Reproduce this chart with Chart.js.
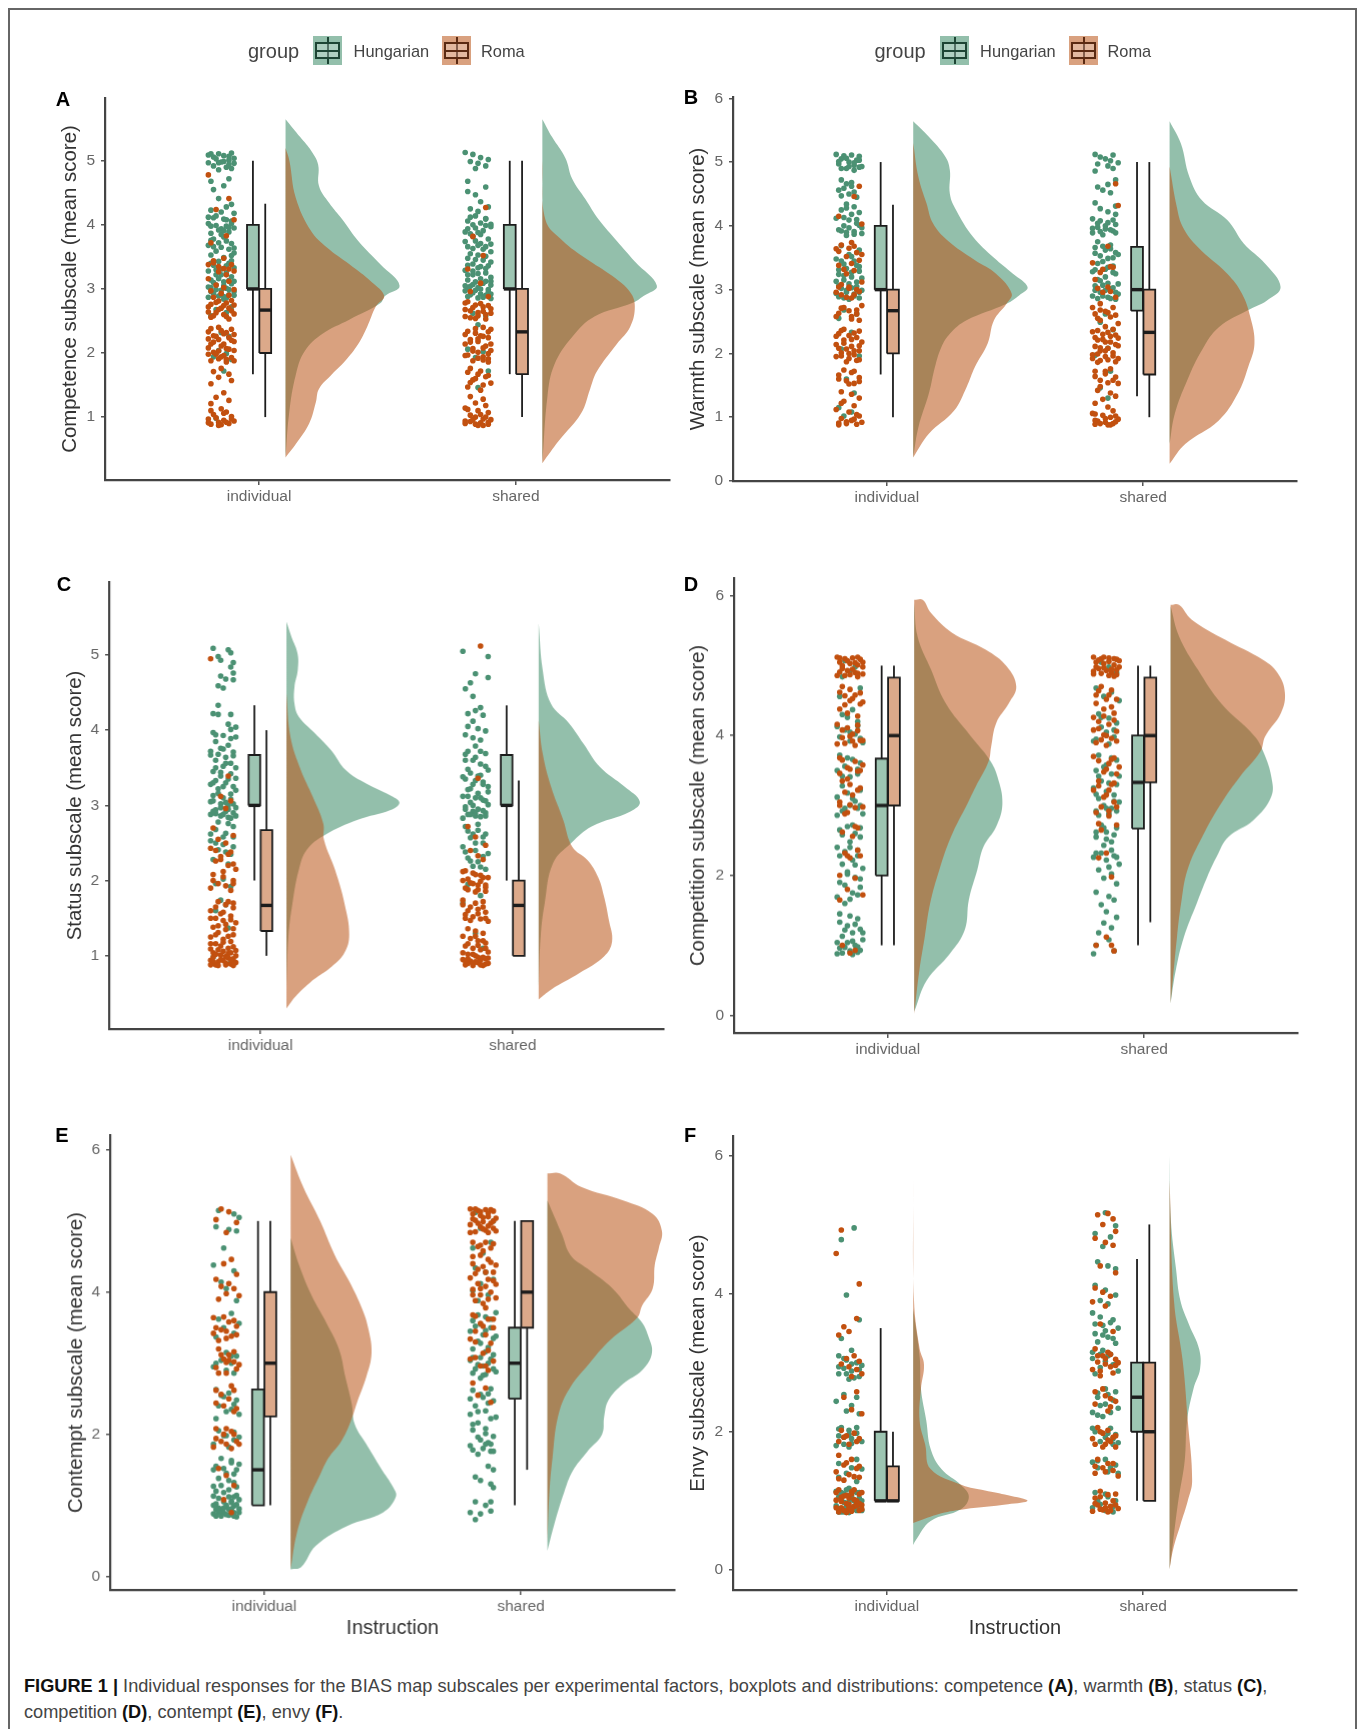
<!DOCTYPE html>
<html>
<head>
<meta charset="utf-8">
<title>BIAS map subscales</title>
<script src="https://cdn.jsdelivr.net/npm/chart.js@4/dist/chart.umd.min.js"></script>
<style>
  html, body { margin: 0; padding: 0; background: #fff; }
  body { position: relative; width: 1363px; height: 1729px; overflow: hidden; font-family: "Liberation Sans", sans-serif; }
  #frame { position: absolute; left: 8px; top: 8px; width: 1349px; height: 1730px; border: 2px solid #666; box-sizing: border-box; }
  canvas.panel { position: absolute; filter: blur(0.55px); }
  .letter { position: absolute; font-weight: bold; font-size: 20px; color: #000; transform: translate(-50%, -50%); }
  .legendText { position: absolute; transform: translateY(-50%); color: #444; white-space: nowrap; filter: blur(0.3px); }
  .key { position: absolute; top: 36px; width: 29px; height: 29px; }
  .key div { position: absolute; box-sizing: border-box; }
  .caption { position: absolute; left: 24px; font-size: 18.2px; color: #444; white-space: nowrap; }
  .caption b { color: #111; }
</style>
</head>
<body>
<div id="frame"></div>
<div class="caption" style="top:1676px"><b>FIGURE 1 |</b> Individual responses for the BIAS map subscales per experimental factors, boxplots and distributions: competence <b>(A)</b>, warmth <b>(B)</b>, status <b>(C)</b>,</div>
<div class="caption" style="top:1702px">competition <b>(D)</b>, contempt <b>(E)</b>, envy <b>(F)</b>.</div>
<script>
// categories and groups
const categories = ['individual', 'shared'];
const groups = ['Hungarian', 'Roma'];
const axisTicks16 = [1, 2, 3, 4, 5];
const axisTicks06 = [0, 2, 4, 6];
const axisTicksB = [0, 1, 2, 3, 4, 5, 6];

// box values: q1, median, q3, lower whisker, upper whisker
const boxAIndHun = [3, 3, 4, 1.67, 5];
const boxAIndRom = [2, 2.67, 3, 1, 4.33];
const boxAShaHun = [3, 3, 4, 1.67, 5];
const boxAShaRom = [1.67, 2.33, 3, 1, 5];
const boxBIndHun = [3, 3, 4, 1.67, 5];
const boxBIndRom = [2, 2.67, 3, 1, 4.33];
const boxBShaHun = [2.67, 3, 3.67, 1.33, 5];
const boxBShaRom = [1.67, 2.33, 3, 1, 5];
const boxCIndHun = [3, 3, 3.67, 2, 4.33];
const boxCIndRom = [1.33, 1.67, 2.67, 1, 4];
const boxCShaHun = [3, 3, 3.67, 2, 4.33];
const boxCShaRom = [1, 1.67, 2, 1, 3.33];
const boxDIndHun = [2, 3, 3.67, 1, 5];
const boxDIndRom = [3, 4, 4.83, 1, 5];
const boxDShaHun = [2.67, 3.33, 4, 1, 5];
const boxDShaRom = [3.33, 4, 4.83, 1.33, 5];
const boxEIndHun = [1, 1.5, 2.63, 1, 5];
const boxEIndRom = [2.25, 3, 4, 1, 5];
const boxEShaHun = [2.5, 3, 3.5, 1, 5];
const boxEShaRom = [3.5, 4, 5, 1.5, 5];
const boxFIndHun = [1, 1, 2, 1, 3.5];
const boxFIndRom = [1, 1, 1.5, 1, 2];
const boxFShaHun = [2, 2.5, 3, 1, 4.5];
const boxFShaRom = [1, 2, 3, 1, 5];

// half violin outlines, score then width
const densAIndHun = [5.65,0, 5.37,.057, 5.15,.101, 4.94,.127, 4.61,.13, 4.34,.17, 4.08,.222, 3.75,.283, 3.38,.37, 3.05,.444, 2.89,.387, 2.78,.37, 2.52,.248, 2.3,.144, 2.03,.075, 1.66,.04, 1.06,.014, .37,0];
const densAIndRom = [5.2,0, 5,.015, 4.42,.04, 3.9,.1, 3.65,.16, 3.38,.25, 3.11,.335, 2.89,.384, 2.73,.352, 2.41,.318, 2.14,.283, 1.87,.231, 1.66,.179, 1.44,.13, 1.23,.118, .9,.092, .58,.04, .37,0];
const densAShaHun = [5.65,0, 5.37,.038, 5.04,.09, 4.72,.116, 4.4,.168, 4.08,.22, 3.75,.29, 3.43,.36, 3.05,.446, 2.89,.394, 2.78,.35, 2.57,.203, 2.25,.116, 1.82,.047, 1.33,.02, .28,0];
const densAShaRom = [5,0, 4.08,.012, 3.75,.08, 3.48,.168, 3.2,.273, 2.95,.342, 2.73,.36, 2.41,.342, 2.14,.29, 1.71,.212, 1.44,.186, 1.06,.151, .63,.064, .28,0];
const densBIndHun = [5.64,0, 5.4,.06, 5.08,.126, 4.87,.143, 4.5,.143, 4.25,.167, 3.83,.233, 3.5,.315, 3.25,.389, 3.04,.446, 2.91,.413, 2.78,.364, 2.52,.208, 2.31,.143, 2.1,.11, 1.79,.085, 1.37,.061, .84,.02, .37,0];
const densBIndRom = [5.3,0, 4.77,.02, 4.35,.052, 4.04,.077, 3.77,.134, 3.46,.241, 3.25,.323, 2.94,.384, 2.78,.364, 2.52,.315, 2.15,.29, 1.79,.241, 1.47,.208, 1.1,.159, .74,.061, .37,0];
const densBShaHun = [5.64,0, 5.29,.044, 4.77,.077, 4.4,.126, 4.09,.225, 3.72,.29, 3.41,.372, 3.04,.433, 2.83,.38, 2.68,.307, 2.41,.192, 2.05,.126, 1.58,.069, 1.05,.02, .58,0];
const densBShaRom = [4.93,0, 4.3,.028, 3.98,.052, 3.67,.11, 3.25,.225, 2.94,.282, 2.57,.315, 2.15,.331, 1.79,.307, 1.37,.266, .95,.192, .58,.061, .27,0];
const densCIndHun = [5.44,0, 5.24,.02, 5.02,.044, 4.8,.045, 4.58,.032, 4.35,.032, 4.18,.049, 3.96,.113, 3.73,.178, 3.47,.235, 3.29,.316, 3.11,.424, 3.03,.448, 2.94,.413, 2.81,.283, 2.61,.154, 2.41,.081, 2.14,.049, 1.7,.024, 1.26,.008, .59,0];
const densCIndRom = [4.49,0, 3.91,.016, 3.47,.057, 3.11,.105, 2.76,.146, 2.54,.149, 2.14,.193, 1.7,.23, 1.28,.249, 1.04,.23, .86,.181, .64,.092, .46,.036, .3,0];
const densCShaHun = [5.42,0, 4.8,.016, 4.35,.049, 4.09,.121, 3.82,.178, 3.51,.243, 3.25,.34, 3.05,.401, 2.92,.364, 2.72,.21, 2.5,.129, 2.23,.057, 1.7,.024, 1.26,.008, .59,0];
const densCShaRom = [4.13,0, 3.69,.016, 3.25,.049, 2.81,.097, 2.45,.133, 2.27,.194, 2.05,.235, 1.79,.259, 1.48,.278, 1.19,.291, .99,.259, .77,.162, .55,.049, .42,0];
const densDIndHun = [5.9,0, 5.42,.013, 4.94,.066, 4.46,.123, 3.99,.221, 3.65,.295, 3.41,.325, 3.03,.344, 2.7,.32, 2.41,.27, 2.08,.246, 1.65,.213, 1.22,.197, .88,.139, .5,.049, .05,0];
const densDIndRom = [5.94,0, 5.94,.033, 5.75,.066, 5.47,.148, 5.23,.279, 4.99,.361, 4.7,.398, 4.46,.369, 4.18,.32, 3.84,.3, 3.63,.29, 3.27,.24, 3.03,.208, 2.55,.143, 2.08,.098, 1.6,.062, 1.12,.041, .64,.02, .02,0];
const densDShaHun = [5.85,0, 5.42,.033, 4.94,.107, 4.46,.197, 3.99,.328, 3.75,.364, 3.41,.393, 3.13,.393, 2.79,.323, 2.55,.225, 2.27,.18, 1.98,.143, 1.6,.102, 1.12,.052, .64,.02, .17,0];
const densDShaRom = [5.87,0, 5.87,.033, 5.66,.082, 5.37,.213, 5.08,.361, 4.89,.418, 4.61,.446, 4.32,.43, 3.99,.369, 3.77,.35, 3.41,.27, 3.03,.197, 2.55,.123, 2.08,.066, 1.6,.041, 1.12,.025, .17,0];
const densEIndHun = [4.76,0, 4.38,.033, 3.95,.082, 3.57,.139, 3.19,.189, 2.81,.213, 2.43,.238, 2.14,.25, 1.86,.295, 1.52,.352, 1.25,.4, 1.12,.41, .9,.36, .71,.22, .43,.098, .13,.041, .1,0];
const densEIndRom = [5.93,0, 5.48,.049, 5,.115, 4.52,.172, 4.14,.23, 3.76,.279, 3.48,.303, 3.14,.315, 2.81,.295, 2.48,.262, 2.19,.235, 1.9,.197, 1.67,.148, 1.43,.115, 1.05,.066, .62,.025, .1,0];
const densEShaHun = [5.29,0, 4.81,.057, 4.52,.09, 4.33,.156, 4.05,.254, 3.76,.32, 3.57,.369, 3.38,.393, 3.14,.407, 2.9,.369, 2.71,.295, 2.48,.238, 2.24,.221, 2,.213, 1.76,.156, 1.48,.098, 1.19,.066, .71,.025, .36,0];
const densEShaRom = [5.67,0, 5.67,.049, 5.48,.131, 5.29,.295, 5.1,.41, 4.86,.446, 4.62,.434, 4.38,.418, 4.05,.41, 3.81,.369, 3.64,.35, 3.33,.246, 3,.164, 2.62,.082, 2.24,.041, 1.67,.02, 1.19,.008, .48,0];
const densFIndHun = [3.78,0, 3.09,.025, 2.62,.03, 2.16,.051, 1.75,.068, 1.46,.11, 1.23,.186, 1.06,.217, .88,.186, .71,.068, .42,.008, .36,0];
const densFIndRom = [5.64,0, 3.9,.003, 3.2,.025, 2.97,.042, 2.62,.03, 2.16,.025, 1.81,.047, 1.46,.068, 1.23,.19, 1.15,.28, 1.08,.37, 1,.446, .95,.37, .88,.2, .82,.11, .68,0];
const densFShaHun = [5.99,0, 5.06,.005, 4.36,.025, 3.9,.042, 3.55,.076, 3.2,.115, 2.91,.119, 2.62,.093, 2.16,.068, 1.58,.059, 1,.034, .42,.014, .01,0];
const densFShaRom = [5.64,0, 3.9,.017, 3.03,.051, 2.16,.071, 1.29,.088, 1,.071, .65,.042, .3,.014, .01,0];

// jittered responses, pairs of jitter then score, both in hundredths
const rainAIndHun = [-4,511, 1,508, 4,512, -2,503, 3,501, -5,497, 0,498, 5,496, -3,492, 2,490, 4,488, -1,486, -4,468, 3,472, 1,461, -3,455, 4,432, -1,441, 2,428, -4,423, 0,420, 5,418, -3,411, 1,409, 4,406, -5,402, -2,399, 2,398, 5,395, -1,392, 3,389, -4,387, 0,385, -3,378, 2,375, 4,371, -5,368, 0,365, 3,362, -2,359, 5,356, -4,353, 1,349, -1,343, 3,340, -3,337, 5,333, 0,331, -5,328, 2,325, -2,322, 4,319, -4,314, 1,311, 4,308, -2,306, -5,303, 2,301, 0,298, 5,296, -3,293, 3,291, -1,289, -5,287, 1,284, 4,272, -2,268, 2,263, -4,258, 0,232, 3,226, -1,204, 2,199, -3,194, 4,190, 1,172, -2,98, -5,509, -1,511, 3,507, 5,504, -3,506, 1,499, 3,494, -1,497, -5,412, -2,414, 2,408, 4,402, 0,394, -4,398, 3,396, 1,391, -4,376, 1,381, 5,364, -3,366, -1,372, 4,352, -4,340, 2,336, 4,344, -2,330, 0,322, -1,316, 3,313, -3,310, 5,312, 1,305, -4,302, 3,299, -2,299, 5,290, -4,296, 1,288, 0,292, 2,286];
const rainAIndRom = [-5,478, 3,441, -2,424, 5,408, 2,383, -4,372, 1,348, -3,344, 4,338, -1,327, 2,322, -5,316, 3,312, -2,306, 1,302, 5,299, -4,297, 0,293, 3,290, -3,287, -1,281, 2,278, 5,275, -5,272, 0,270, 4,266, -2,263, 1,260, -4,256, 3,253, -1,240, 4,237, -5,233, 1,230, -3,227, 3,224, -1,221, 5,218, -4,214, 0,211, 2,207, 5,204, -3,201, -5,198, 1,196, 4,193, -1,191, -4,188, 2,186, 0,176, -3,171, 3,167, -1,162, 4,157, -4,152, 1,138, -2,131, 3,126, -4,121, 0,113, 2,108, -3,104, 4,101, -5,97, 1,95, -1,92, 3,90, -4,89, 5,94, 0,88, -3,341, 1,332, 5,328, -5,338, -1,335, 3,331, -2,279, 4,282, -4,276, 1,274, 3,270, -5,264, -1,268, 5,261, -3,258, 2,257, -4,238, 0,235, 2,232, 5,229, -2,226, 4,220, -5,222, -3,217, 1,214, 3,206, -1,203, -5,208, 2,190, 5,188, -2,198, 0,194, -4,110, 1,106, -2,99, 4,97, 2,92, -5,91, -1,87];
const rainAShaHun = [-5,513, -2,510, 1,505, 4,502, -3,499, 0,496, 3,492, -1,488, -4,468, 3,459, -4,452, -1,447, 1,436, 4,428, -3,425, 0,421, -1,414, 3,410, -4,406, 1,403, -2,400, 5,397, -4,394, 2,391, 0,388, -2,382, 4,378, -5,374, 1,371, 3,366, -2,363, 5,358, 0,353, -4,348, 2,345, -2,339, 4,336, 0,333, -5,329, 3,325, -2,322, 5,318, -4,314, -1,311, 2,309, 5,306, -3,304, 0,302, 4,299, -5,297, -2,294, 1,292, 3,290, -4,288, 0,286, 5,285, -2,262, 3,258, 0,244, -4,206, 2,202, -1,193, 4,172, 0,146, 3,409, -3,412, 5,401, -1,395, 3,399, -5,389, 1,385, -3,386, -1,375, 5,370, -4,366, 2,362, 0,368, -3,355, 3,351, -1,346, 5,342, -4,337, 1,335, 3,332, -2,328, 0,324, -4,322, 5,312, 1,316, 3,312, -2,307, -4,302, 1,300, 4,295, -1,298, -3,291, 2,287, 5,292, -5,305];
const rainAShaRom = [3,427, -2,382, 2,352, -4,331, 1,309, -3,296, 4,288, -5,278, -1,275, 2,272, 5,269, -3,266, 0,263, 3,260, -5,257, -1,254, 2,240, 5,237, -4,234, -1,231, 1,227, 4,224, -3,221, 0,218, -5,214, 3,211, -2,207, 5,204, 0,201, -4,197, 2,194, 4,191, -2,188, -4,170, 0,167, 3,163, -2,158, 5,153, -4,147, 1,142, -3,132, 2,128, -1,122, 3,118, -5,114, 0,110, 4,107, -3,103, -1,100, 2,97, -5,94, 1,91, 4,89, -3,93, 5,96, 0,87, -4,280, 1,277, 4,274, -2,271, -5,268, 2,265, 5,262, 0,258, -3,255, 3,253, -1,238, 4,233, -5,229, 2,226, 0,222, -3,217, 5,214, 2,208, -2,203, 4,199, -5,196, 0,192, 2,189, 4,186, -3,176, 1,172, -1,160, 4,165, -3,154, 2,150, -4,112, 1,104, -2,96, 3,100, -5,90, -1,89, 2,87, 4,92];
const rainBIndHun = [-5,512, -2,510, 1,511, 4,509, -3,505, 3,503, 0,500, -4,497, 2,495, 5,493, -1,490, 2,487, -3,472, -1,466, 1,462, -4,456, 0,450, 3,445, -1,434, 2,430, -3,425, 4,421, -5,412, 0,409, 3,404, -2,400, 5,397, -4,394, -1,390, 2,387, -3,369, 4,362, 0,355, -5,348, 2,345, -2,340, 4,336, -4,331, 1,327, -2,322, 5,318, -5,313, 0,309, 3,305, -3,302, 5,299, -1,296, 2,293, -4,289, 4,287, 0,285, -2,268, 3,262, -4,255, 1,233, -3,207, 4,196, -1,160, 2,138, -4,115, 1,108, -2,102, -1,506, 4,503, -4,501, 2,499, 0,493, -3,490, 4,492, 1,468, -2,459, 2,453, -3,447, -1,428, 1,418, -2,413, 3,410, 4,401, 0,397, -3,392, 2,391, 5,388, -1,385, 1,352, -3,345, 3,338, -1,333, 4,329, -4,324, 1,320, -2,315, 3,312, -4,306, 1,303, -1,299, 4,296, -5,294, 2,290, -2,287];
const rainBIndRom = [4,462, 2,446, -4,415, 5,403, 1,374, -3,370, -5,364, 3,358, -1,352, 4,346, -4,338, 2,330, -1,325, 5,312, -3,308, 0,304, 3,300, -5,296, 2,292, -1,288, 5,275, -3,271, 0,267, 3,262, -5,258, 1,254, -2,238, 4,235, -4,231, 0,228, 3,225, -2,221, 5,218, -5,214, 1,211, -1,207, 4,204, -3,201, 2,198, -5,195, 0,192, 3,189, -2,174, 1,170, -4,166, 4,162, -1,157, 2,153, -3,140, 1,136, 4,130, -2,125, 2,118, -5,112, 0,108, 4,102, -3,98, 1,95, 5,92, -1,90, 3,89, -4,91, 0,365, -4,360, 2,368, 5,355, -2,332, 1,341, 0,302, -4,304, 4,297, -3,292, 1,287, -2,272, 3,268, -4,263, 1,258, 4,252, -3,236, 2,232, -5,227, 1,222, -2,216, 4,212, -4,208, 2,204, 0,200, -3,196, 4,190, -1,187, 2,172, -4,160, 4,156, 0,152, -3,122, 2,97, -1,93, -4,88, 3,104];
const rainBShaHun = [-4,512, -2,508, 3,511, 0,505, 2,502, 5,499, -3,497, 1,494, 3,490, -4,486, 4,472, 1,465, -3,461, -1,456, 2,452, -4,436, 4,431, -2,427, 1,422, 4,418, -5,411, -2,408, 1,405, 4,402, -3,398, 0,395, 3,392, -5,389, -1,386, 2,370, -4,366, 0,362, 4,358, -2,353, 1,349, -3,341, 3,337, 0,332, -5,328, 4,325, -2,314, 1,310, -4,306, 3,303, 0,299, -2,296, 5,293, -5,290, 1,288, -3,286, 4,285, 0,262, -2,249, 3,237, 1,208, -4,197, 2,172, -2,146, 1,130, 3,409, -3,404, 0,400, -5,396, 2,394, 4,389, -2,391, -3,375, 2,364, -1,368, 5,355, -4,357, 3,350, -1,344, 1,335, -4,331, 3,327, 0,320, -3,316, 5,309, -1,307, 2,301, -4,299, 4,296, -1,290, 2,286];
const rainBShaRom = [4,466, 5,432, 1,368, -5,342, 3,335, -2,327, -4,316, 1,304, -1,296, 4,288, -5,272, -2,268, 1,264, 4,260, -3,255, 0,242, 3,238, -5,234, -1,230, 2,227, 5,224, -3,221, 0,218, 4,214, -4,211, 1,208, -2,204, 3,201, -5,198, 0,195, 5,192, -2,189, 2,176, -4,172, 0,168, 4,163, -2,158, 1,154, -3,142, 2,138, 4,133, -1,128, -4,122, 1,116, 3,110, -5,106, -1,103, 2,100, 5,97, -3,94, 0,92, 3,90, -4,89, 1,88, 4,93, 2,336, -1,332, -3,302, 2,297, -2,278, 3,272, 0,266, -4,262, 2,257, -2,252, 5,247, -3,236, 1,233, 4,229, -4,225, -1,222, 2,218, 5,212, -2,209, 0,204, -3,199, 3,196, -5,192, 1,190, 4,187, -3,186, 0,172, -4,164, 3,158, 5,153, -2,148, -4,105, 0,98, 4,102, -2,90, 2,88, -4,95];
const rainCIndHun = [-4,509, 2,507, 3,503, -2,498, -1,493, 4,490, 3,484, 4,476, -1,472, 1,468, 4,467, -2,459, 0,456, -2,433, -4,422, -2,421, 3,421, 2,408, 5,404, 3,401, -4,397, 0,393, 5,391, -3,385, 2,380, -1,376, 4,371, -5,367, 1,364, -3,360, 3,356, 0,352, -4,345, 3,342, -1,339, 5,336, -3,333, 1,330, -5,328, 4,325, -2,322, -4,313, 0,310, 3,308, -5,305, -1,302, 2,300, 5,297, -3,294, 1,292, 4,290, -5,288, -1,286, 2,284, 4,272, -3,268, 1,263, 4,258, -5,253, 0,248, -2,241, 3,235, -4,228, 2,222, 0,202, -3,196, 3,192, -1,174, 1,168, -3,160, 2,137, -4,98, 3,92, -3,394, 3,389, 0,375, -5,372, 4,366, -2,368, 1,356, -3,350, 5,350, -1,344, 2,335, -4,330, 0,325, 5,320, 3,315, -2,316, -4,306, 1,304, 4,302, -1,297, 2,295, -3,289, 5,286, 0,288, -4,292, 3,283, -2,278, 2,276, -5,262, 0,258, 4,245, -3,250, 1,238];
const rainCIndRom = [-5,495, 2,339, -1,312, 3,306, 1,296, -4,270, 4,260, -2,255, 1,250, -5,243, 3,238, -1,232, -3,226, 2,220, 5,215, -4,208, 0,205, 4,200, -2,196, 1,193, -5,190, 3,187, -2,172, 1,168, 4,164, -5,160, -1,156, 3,153, -3,150, 0,147, 5,144, -4,138, 1,135, -2,131, 4,128, -5,125, 0,122, 3,119, -3,116, -1,113, 2,110, 5,107, -4,104, -1,101, 1,99, 4,96, -5,94, -2,92, 1,90, 3,89, 5,91, -3,88, 0,94, -4,98, 2,103, 4,87, -3,240, 2,235, -1,228, 4,222, 0,212, 4,196, -4,200, 2,172, -3,165, 4,170, 0,158, 3,148, -5,150, 1,142, -2,140, 4,136, -3,128, 2,126, 0,118, -5,116, 4,112, -2,108, 3,104, -5,109, 0,106, -3,102, 5,100, 2,97, -1,95, -4,92, 4,90, 1,88, -2,87, -5,88, 3,95];
const rainCShaHun = [-5,505, 5,498, 0,475, -2,463, 5,470, -4,455, -1,445, 2,430, 0,426, -3,422, 3,420, -1,412, -3,405, 1,402, 4,399, -4,394, -1,390, 2,387, 0,379, -3,372, 4,369, 0,364, -4,360, 2,355, 5,347, -2,343, 1,339, -4,335, 3,331, -1,328, 5,325, -3,321, 1,316, -5,312, 0,310, 3,307, -2,304, 5,301, -4,298, 1,295, -1,292, 4,290, -3,288, 0,286, 2,285, -4,272, 1,267, 4,262, -2,257, 3,250, -5,245, 0,240, 5,236, -3,230, 1,225, -1,219, 4,215, -3,195, 2,180, -5,170, 0,130, 3,110, -4,368, 2,372, -1,360, 4,352, -3,348, 2,340, -5,338, 0,333, 3,328, -2,322, 5,318, -3,312, 2,310, 4,306, -1,300, -4,295, 3,293, 0,290, -2,288, 4,286, -5,283, 1,275, -3,266, 3,258, -1,262, 0,250, -4,238, 3,232, -2,226, 2,218];
const rainCShaRom = [2,512, 1,336, -3,272, 0,258, 4,247, -2,240, 1,233, 3,228, -4,213, -1,210, 2,207, 5,204, -5,200, -2,197, 1,194, 4,191, -3,188, 0,185, 3,172, -5,168, -2,165, 1,162, 4,158, -4,155, -1,152, 2,149, 5,146, -3,136, 0,133, 3,130, -5,126, -2,123, 1,120, 4,117, -4,113, -1,110, 2,108, 5,105, -3,102, 0,100, 3,98, -5,95, -2,93, 1,91, 4,89, -4,88, -1,87, 2,94, 5,97, -3,90, -5,212, 0,208, 3,204, -3,202, 2,199, -1,196, 4,194, -4,190, 1,188, 4,186, -5,174, 0,170, 3,165, -3,160, 1,156, 4,150, -2,147, -4,150, 0,126, 3,120, -3,116, 1,114, 4,110, -5,104, -1,102, 1,98, 4,96, -3,96, 0,92, 3,87, -4,93, -1,90, 2,88, 5,90];
const rainDIndHun = [-2,507, 2,498, 0,492, -3,484, 4,468, -4,456, 1,437, -1,426, 3,420, -5,413, -2,408, 2,402, 4,396, 0,392, -4,372, 1,366, 4,361, -2,356, -5,350, 3,345, 0,341, -3,328, 4,322, -1,318, -5,312, 2,306, 0,300, 3,296, -3,292, 5,288, -1,270, -4,265, 2,260, 4,255, 0,248, -5,240, -2,234, 3,228, 1,222, -3,216, 5,210, -1,202, 2,197, -4,190, 4,183, 1,175, -5,169, -2,160, 0,142, 3,138, -4,133, -1,128, 4,123, 1,118, -3,113, 5,108, -1,104, 2,100, -4,96, 0,92, 3,90, -5,88, 1,87, -3,430, 3,414, 0,405, -4,398, 5,390, -1,368, 3,352, -3,342, 1,310, 4,300, -2,296, -5,286, 1,272, 4,268, -3,258, 0,240, 3,236, -4,228, 2,215, -1,205, 4,195, -2,186, 3,172, 0,166, -4,145, 2,130, -2,122, 5,118, -5,104, 1,106, 3,98, -2,97, 4,93, -3,89];
const rainDIndRom = [-5,512, -2,510, 1,511, 4,509, -4,505, 0,503, 3,501, 5,498, -3,496, -1,493, 2,490, 5,488, -5,486, 0,487, 3,484, -3,470, 0,466, 4,461, -2,457, 1,453, 5,448, -4,438, -1,432, 3,428, -5,416, -1,411, 3,407, 1,402, -3,397, 5,393, -2,389, 2,386, -4,368, 2,363, 5,358, -1,354, 3,349, -3,335, 0,330, 4,325, -2,319, -4,305, 0,301, 2,297, -1,290, 3,268, -3,262, 1,256, -2,232, 4,228, 0,225, -4,200, 2,196, -1,180, 5,172, -3,100, 2,93, 0,89, -4,511, 3,512, -1,507, 2,504, -3,500, 5,505, 1,495, -4,491, 3,489, -2,486, -4,462, 2,458, 0,450, 4,445, -2,444, 3,415, -3,408, 0,399, 4,393, -5,388, 1,392, -3,365, 0,352, 4,350, -4,346, -1,338, 3,322, 1,315, -4,300, 5,298, -2,288, 2,270, -1,228, 3,236, -4,165];
const rainDShaHun = [-2,505, 1,498, 4,490, -4,468, 2,462, -1,456, 5,450, -3,431, 1,425, 4,418, -2,412, 0,405, 3,398, -5,392, 1,388, -3,372, 4,365, 0,358, -4,350, 2,345, -2,335, 4,330, -5,325, 0,320, 3,315, -3,310, 5,305, -1,300, 2,296, -4,292, 1,288, -2,272, 4,268, 0,262, -4,255, 2,248, -1,243, -4,232, 3,228, 0,222, 5,216, -3,208, 2,202, -1,196, 4,188, -4,176, 1,170, 3,165, -2,158, 0,148, 4,140, -1,132, 2,125, -3,118, 1,108, -4,100, 3,92, -5,88, -2,426, 3,408, -4,395, 2,368, -1,355, 5,342, -3,342, 1,332, -4,316, 3,306, 0,296, -3,286, 4,292, -1,268, 3,258, -4,262, 0,252, -2,232, 2,236, 4,226, -5,226, 1,212];
const rainDShaRom = [-5,512, -2,510, 1,511, 4,509, -4,505, -1,503, 3,501, 5,498, -3,496, 0,493, 2,490, -5,488, 4,487, -2,470, 2,465, -4,458, 0,452, -1,438, 3,432, -5,426, 1,416, -3,410, 4,406, -1,401, 2,396, -4,390, 0,386, 3,368, -3,364, 1,360, 5,355, -1,348, -3,335, 2,330, -5,322, 0,315, 3,305, -2,298, -4,290, 1,285, 4,272, -2,265, 0,232, -3,225, 2,198, 0,112, -4,100, 3,92, -1,512, 3,510, -3,508, 1,506, 5,507, -4,498, -1,497, 2,495, 4,494, -5,492, -2,489, 1,486, 3,485, -3,464, 1,458, 4,452, -4,446, 2,441, -1,428, -3,420, 3,422, -5,408, 0,400, 4,392, -2,394, 2,366, -5,370, 0,352, 4,345, -3,328, 1,322, 3,332, -1,312, 4,298, 1,292, -3,274, 2,100];
const rainEIndHun = [-3,515, 3,510, 5,505, -4,492, 1,488, 4,486, -1,462, -5,438, 3,430, -2,414, 0,405, 4,388, 2,370, -3,362, 5,356, -1,350, 3,342, -4,337, 0,315, 4,310, -2,304, 2,300, -5,295, 0,290, 3,286, -4,263, 1,258, -1,253, 4,248, -3,240, 2,235, 5,228, -4,222, -1,198, 3,192, -5,186, 1,182, -2,166, 2,160, -4,155, 4,150, 0,145, -3,138, 3,132, -5,127, 1,122, -1,118, 4,114, -3,110, 2,106, -4,102, 0,98, 5,95, -2,92, 3,90, -5,88, 1,86, 4,84, -3,96, 0,100, -1,89, 2,104, -4,94, 5,108, 1,112, -2,85, 3,99, -5,113, 3,112, -1,105, -5,100, 1,94, 4,101, -3,90, 0,87, 2,95, 5,90, -4,85, -1,96, 3,85, 2,163, 5,158, -1,152, -5,150, 3,144, -2,128, 1,135, 4,126, -4,120, -3,205, 3,203, 0,198, 5,196, -2,255, 3,242, 0,232, -4,300, 2,310];
const rainEIndRom = [-2,517, 1,513, 4,498, -4,502, 0,484, 2,446, -1,440, 4,425, -4,418, 1,412, -2,408, 3,405, 0,398, 5,395, -3,390, -5,364, 1,358, 4,352, -2,347, -5,342, 2,338, 0,335, -3,320, 1,312, -1,306, 3,302, 5,298, -4,294, 0,286, 3,262, -2,256, 1,250, -4,244, 4,236, 2,204, -1,200, -4,194, 4,190, 0,186, 2,180, -3,152, 0,142, 3,128, -1,108, 2,90, -4,350, 3,360, -1,365, 0,345, 4,340, -3,332, 3,316, -2,312, 1,304, 4,292, -3,286, 0,301, -4,262, 2,268, -1,240, 3,232, -4,208, 0,208, 3,200, -2,190, 5,186, -5,182];
const rainEShaHun = [-3,512, 4,500, -1,490, 3,470, -4,462, 0,455, -3,434, 1,428, 4,418, -1,412, -4,402, 2,396, -2,388, 5,371, 1,365, -4,360, -1,355, 3,350, -5,345, 0,340, 4,335, -2,331, -4,320, 1,316, 4,312, -1,308, -5,304, 2,300, 0,296, -3,292, 5,288, 1,284, -1,279, -4,262, 2,257, 0,252, 4,247, -3,240, 1,233, -5,228, 3,222, -2,216, -4,206, 1,201, 4,197, -1,192, 2,188, -5,184, 0,180, 3,176, -2,172, 2,155, 4,150, -3,140, -1,135, 3,130, 4,125, -3,105, 1,100, 3,105, -5,90, -1,88, 3,92, -3,80, -2,368, 3,362, -3,352, 1,346, 5,338, -1,328, 2,322, -4,308, 3,306, -2,298, 4,292, -4,286, 0,283, 3,264, -1,256, -5,250, 2,244, -2,232, 5,224, -4,214, 1,208, -2,196, 3,186, -4,178, 1,186, 4,176];
const rainEShaRom = [-5,517, -2,515, 1,516, 4,514, -4,510, -1,508, 2,506, 5,504, -3,501, 0,499, 3,497, -5,495, -1,492, 4,490, 1,487, -3,485, 2,484, -4,470, -1,466, 3,462, 0,458, -4,450, 2,446, 5,438, -2,432, 1,428, -5,420, 4,416, -2,412, 1,408, -4,404, 3,400, -1,396, 5,392, -3,388, 0,384, -4,368, 2,362, -1,356, 4,350, -3,345, 1,340, -5,334, 3,328, 0,314, -3,308, 4,303, -1,296, 2,290, -4,272, 1,265, -2,255, 3,245, -3,517, 3,516, -1,513, 2,511, 0,505, -4,503, 4,500, -2,497, 2,493, 5,486, -5,484, 0,489, -2,464, 1,470, 4,468, -1,452, 3,442, -4,440, 0,436, 4,428, -3,426, 2,418, 5,411, -1,405, -4,396, 2,390, 1,378, -3,366, 4,362, 0,352, -3,330, 2,318, -5,306, 1,296];
const rainFIndHun = [2,495, -3,478, -1,398, 4,362, -3,335, 1,318, -4,310, -1,304, 3,300, 5,296, -2,292, 1,288, -4,284, 4,280, 0,276, -2,254, 3,250, -5,244, 1,238, -1,230, 4,226, -3,206, 0,202, 3,198, -4,194, 1,190, 5,186, -2,182, 0,178, 3,160, -4,154, 1,148, 5,146, -1,140, -4,134, 3,128, 0,118, -5,114, -2,110, 1,107, 4,104, -3,101, 0,99, 3,96, -5,93, -1,90, 2,88, 5,86, -3,84, 0,83, 4,92, -2,98, 1,103, -4,88, 3,112, -1,116, -2,306, 1,298, -4,294, 4,290, -1,284, 2,278, -4,204, 3,206, 0,196, 4,188, -2,192, 1,183, -5,180, -3,112, 2,114, 4,112, 0,108, -4,106, 2,100, 5,100, -1,92, -4,84, 1,90, 3,86, -2,84];
const rainFIndRom = [-3,492, -5,458, 4,414, 3,364, -2,352, 0,345, -4,340, 2,310, -1,306, 4,302, -3,298, 0,294, 3,290, 5,284, 1,280, 3,258, -2,250, 1,232, 5,226, -3,202, 2,198, -1,194, 4,190, -4,186, 0,182, -4,166, 1,160, -2,152, 3,147, -5,142, 0,138, 4,134, -2,130, -4,116, 1,113, 4,110, -2,107, 0,104, -5,101, 3,98, -1,96, 5,94, 2,92, -3,90, 0,88, 4,86, -4,84, -1,83, 1,85, 3,100, -3,105, 5,112, 0,95, -1,108, 2,102, -5,112, 2,116, 4,96, -3,99, 0,91, -5,90, 3,93, 1,88, -2,86, 5,88, 1,110, -1,155, 2,135, 4,150, -4,132, -2,192, 3,186];
const rainFShaHun = [0,517, 4,498, -4,487, 2,482, -1,468, -3,446, 1,440, 4,436, -4,412, 0,405, 4,398, -2,390, 1,385, -5,372, 3,362, -1,354, 5,350, -4,342, 1,337, -3,330, 4,328, -1,318, 2,312, -5,306, 0,302, 3,297, -2,293, 5,288, -4,284, 1,254, -3,250, 3,246, 0,240, 5,234, -5,228, -1,222, 2,205, -4,200, 4,196, 0,192, -2,186, 3,182, 0,160, 4,152, -3,148, 1,142, -4,112, 1,106, 4,100, -2,95, -5,90, 0,86, 3,84, -2,366, 2,358, -4,356, 0,346, -1,340, 3,335, -5,315, 1,310, 4,298, -2,312, -3,256, 0,262, 4,258, -2,238, 2,228, -3,224, -5,205, 1,198, 3,190, 5,184, -3,158, 2,148, -5,156, 5,140, 0,110, -3,100, 3,92];
const rainFShaRom = [-3,514, 1,516, 3,508, -1,500, 4,490, -4,480, 0,474, 3,470, -2,440, 4,430, -4,408, -1,402, 2,396, -5,388, 0,382, -2,356, 3,345, -4,320, 1,315, -1,310, 4,305, -3,301, 0,298, 2,294, -5,290, 3,285, -2,281, -4,258, 0,252, 4,244, 2,236, -3,206, 1,202, -1,198, 4,194, -5,190, 2,186, 0,182, 4,178, -3,160, 1,154, -1,148, 3,144, -4,140, 5,136, -2,114, 1,109, -4,104, 3,100, 0,97, -3,94, 2,92, 5,89, -1,87, -5,85, 1,84, 2,312, -3,310, 4,296, 0,306, -2,288, 5,300, -1,262, 2,248, -4,240, 1,230, -2,200, 3,192, -4,182, 1,188, -1,178, 3,154, -4,150, 0,142, -2,106, 4,110, 0,90, -4,96, 2,86, 4,94, -2,88];

// colours
const hunFill = 'rgba(59,139,102,0.55)';
const romFill = 'rgba(186,84,22,0.55)';
const hunBox = 'rgba(59,139,102,0.5)';
const romBox = 'rgba(186,84,22,0.5)';
const hunDot = '#4b9173';
const romDot = '#c2500f';
const inkLine = '#1c1c1c';

// where things sit on the category axis
const rainCentre = -0.1475;
const violinBase = 0.103;
const boxDodge = 0.024;
const boxHalf = 0.023;

// page rectangle of every plot area
const panelA = { letter: 'A', lx: 63, ly: 99, title: 'Competence subscale (mean score)', titleX: 70, left: 105, right: 670, top: 98, bottom: 480.4, yMin: 0.018, yMax: 5.98, ticks: axisTicks16, xTitle: '',
  series: [[densAIndHun, densAIndRom, rainAIndHun, rainAIndRom, boxAIndHun, boxAIndRom], [densAShaHun, densAShaRom, rainAShaHun, rainAShaRom, boxAShaHun, boxAShaRom]] };
const panelB = { letter: 'B', lx: 691, ly: 97, title: 'Warmth subscale (mean score)', titleX: 698, left: 732.6, right: 1297.5, top: 96.7, bottom: 480.7, yMin: 0, yMax: 6.02, ticks: axisTicksB, xTitle: '',
  series: [[densBIndHun, densBIndRom, rainBIndHun, rainBIndRom, boxBIndHun, boxBIndRom], [densBShaHun, densBShaRom, rainBShaHun, rainBShaRom, boxBShaHun, boxBShaRom]] };
const panelC = { letter: 'C', lx: 64, ly: 584, title: 'Status subscale (mean score)', titleX: 76, left: 109.4, right: 664, top: 581.7, bottom: 1029.3, yMin: 0.027, yMax: 5.97, ticks: axisTicks16, xTitle: '',
  series: [[densCIndHun, densCIndRom, rainCIndHun, rainCIndRom, boxCIndHun, boxCIndRom], [densCShaHun, densCShaRom, rainCShaHun, rainCShaRom, boxCShaHun, boxCShaRom]] };
const panelD = { letter: 'D', lx: 691, ly: 584, title: 'Competition subscale (mean score)', titleX: 698, left: 733.5, right: 1297.5, top: 578.3, bottom: 1032.7, yMin: -0.253, yMax: 6.253, ticks: axisTicks06, xTitle: '',
  series: [[densDIndHun, densDIndRom, rainDIndHun, rainDIndRom, boxDIndHun, boxDIndRom], [densDShaHun, densDShaRom, rainDShaHun, rainDShaRom, boxDShaHun, boxDShaRom]] };
const panelE = { letter: 'E', lx: 62, ly: 1135, title: 'Contempt subscale (mean score)', titleX: 76, left: 110.3, right: 674.7, top: 1135.2, bottom: 1589.8, yMin: -0.19, yMax: 6.21, ticks: axisTicks06, xTitle: 'Instruction',
  series: [[densEIndHun, densEIndRom, rainEIndHun, rainEIndRom, boxEIndHun, boxEIndRom], [densEShaHun, densEShaRom, rainEShaHun, rainEShaRom, boxEShaHun, boxEShaRom]] };
const panelF = { letter: 'F', lx: 690, ly: 1135, title: 'Envy subscale (mean score)', titleX: 698, left: 733, right: 1297, top: 1136, bottom: 1590, yMin: -0.29, yMax: 6.28, ticks: axisTicks06, xTitle: 'Instruction',
  series: [[densFIndHun, densFIndRom, rainFIndHun, rainFIndRom, boxFIndHun, boxFIndRom], [densFShaHun, densFShaRom, rainFShaHun, rainFShaRom, boxFShaHun, boxFShaRom]] };
const panels = [panelA, panelB, panelC, panelD, panelE, panelF];

function violinDataset(list, cat, color) {
    const data = [];
    for (let i = 0; i < list.length; i += 2) {
        data.push({ x: cat + violinBase + list[i + 1], y: list[i] });
    }
    return { type: 'scatter', data: data, showLine: true, fill: 'shape', backgroundColor: color, borderWidth: 0, pointRadius: 0, tension: 0.4 };
}

function rainDataset(list, cat, color) {
    const data = [];
    for (let i = 0; i < list.length; i += 2) {
        data.push({ x: cat + rainCentre + list[i] / 100, y: list[i + 1] / 100 });
    }
    return { type: 'scatter', data: data, showLine: false, backgroundColor: color, borderWidth: 0, pointRadius: 2.8 };
}

function lineDataset(data, width) {
    return { type: 'scatter', data: data, showLine: true, fill: false, borderColor: inkLine, borderWidth: width, pointRadius: 0, tension: 0, borderCapStyle: 'butt' };
}

// whiskers, box and median for one group in one category
function boxDatasets(box, x, color) {
    const [q1, med, q3, lo, hi] = box;
    const lower = lineDataset([{ x: x, y: lo }, { x: x, y: q1 }], 1.8);
    const upper = lineDataset([{ x: x, y: q3 }, { x: x, y: hi }], 1.8);
    const body = lineDataset([{ x: x - boxHalf, y: q1 }, { x: x + boxHalf, y: q1 }, { x: x + boxHalf, y: q3 }, { x: x - boxHalf, y: q3 }, { x: x - boxHalf, y: q1 }], 1.8);
    body.fill = 'shape';
    body.backgroundColor = color;
    const median = lineDataset([{ x: x - boxHalf, y: med }, { x: x + boxHalf, y: med }], 3.4);
    return [lower, upper, body, median];
}

function buildDatasets(panel) {
    const list = [];
    panel.series.forEach((s, i) => {
        const cat = i + 1;
        list.push(violinDataset(s[0], cat, hunFill));
        list.push(violinDataset(s[1], cat, romFill));
        list.push(rainDataset(s[2], cat, hunDot));
        list.push(rainDataset(s[3], cat, romDot));
        boxDatasets(s[4], cat - boxDodge, hunBox).forEach(d => list.push(d));
        boxDatasets(s[5], cat + boxDodge, romBox).forEach(d => list.push(d));
    });
    // later datasets on top
    list.forEach((d, i) => { d.order = -i; d.clip = false; });
    return list;
}

const axisWidth = 60;
const axisHeight = 56;
const padTop = 8;
const padRight = 12;

panels.forEach(panel => {
    const canvas = document.createElement('canvas');
    canvas.className = 'panel';
    const cssW = axisWidth + (panel.right - panel.left) + padRight;
    const cssH = padTop + (panel.bottom - panel.top) + axisHeight;
    const canvasLeft = panel.left - axisWidth;
    canvas.style.left = canvasLeft + 'px';
    canvas.style.top = (panel.top - padTop) + 'px';
    canvas.style.width = cssW + 'px';
    canvas.style.height = cssH + 'px';
    canvas.width = cssW;
    canvas.height = cssH;
    document.body.appendChild(canvas);

    new Chart(canvas.getContext('2d'), {
        type: 'scatter',
        data: { datasets: buildDatasets(panel) },
        options: {
            responsive: false,
            animation: false,
            devicePixelRatio: 1,
            layout: { padding: { top: padTop, right: padRight, left: 0, bottom: 0 } },
            plugins: { legend: { display: false }, tooltip: { enabled: false } },
            scales: {
                x: {
                    type: 'linear', min: 0.4, max: 2.6,
                    afterBuildTicks: s => { s.ticks = [{ value: 1 }, { value: 2 }]; },
                    afterFit: s => { s.height = axisHeight; s.paddingLeft = 0; s.paddingRight = 0; },
                    border: { display: true, color: '#444', width: 2.2 },
                    grid: { drawOnChartArea: false, drawTicks: true, tickLength: 5, color: '#555', lineWidth: 1.5 },
                    ticks: { autoSkip: false, maxRotation: 0, padding: 2, color: '#666', font: { family: '"Liberation Sans"', size: 15.5 }, callback: v => categories[v - 1] },
                    title: { display: panel.xTitle !== '', text: panel.xTitle, color: '#333', font: { family: '"Liberation Sans"', size: 20 }, padding: { top: 0, bottom: 6 } }
                },
                y: {
                    type: 'linear', min: panel.yMin, max: panel.yMax,
                    afterBuildTicks: s => { s.ticks = panel.ticks.map(v => ({ value: v })); },
                    afterFit: s => { s.width = axisWidth; s.paddingTop = 0; s.paddingBottom = 0; },
                    border: { display: true, color: '#444', width: 2.2 },
                    grid: { drawOnChartArea: false, drawTicks: true, tickLength: 4, color: '#555', lineWidth: 1.5 },
                    ticks: { autoSkip: false, padding: 6, color: '#666', font: { family: '"Liberation Sans"', size: 15.5 }, callback: v => String(v) },
                    title: { display: true, text: panel.title, color: '#333', font: { family: '"Liberation Sans"', size: 20.4 }, padding: { top: panel.titleX - canvasLeft - 12, bottom: 0 } }
                }
            }
        }
    });

    const letter = document.createElement('div');
    letter.className = 'letter';
    letter.textContent = panel.letter;
    letter.style.left = panel.lx + 'px';
    letter.style.top = panel.ly + 'px';
    document.body.appendChild(letter);
});

// legend above the top two panels
function addText(text, x, size) {
    const el = document.createElement('div');
    el.className = 'legendText';
    el.textContent = text;
    el.style.left = x + 'px';
    el.style.top = '51px';
    el.style.fontSize = size + 'px';
    document.body.appendChild(el);
}

function addKey(x, color, edge) {
    const key = document.createElement('div');
    key.className = 'key';
    key.style.left = x + 'px';
    key.style.background = color;
    key.innerHTML =
        '<div style="left:14px;top:1px;width:2px;height:27px;background:' + edge + '"></div>' +
        '<div style="left:2px;top:6px;width:25px;height:17px;border:2px solid ' + edge + ';background:rgba(255,255,255,0.25)"></div>' +
        '<div style="left:2px;top:13.5px;width:25px;height:2px;background:' + edge + '"></div>';
    document.body.appendChild(key);
}

[0, 626.5].forEach(dx => {
    addText('group', 248 + dx, 20);
    addKey(313.4 + dx, hunFill, '#1d4534');
    addText(groups[0], 353.6 + dx, 16.4);
    addKey(442 + dx, romFill, '#5a2a12');
    addText(groups[1], 481 + dx, 16.4);
});
</script>
</body>
</html>
